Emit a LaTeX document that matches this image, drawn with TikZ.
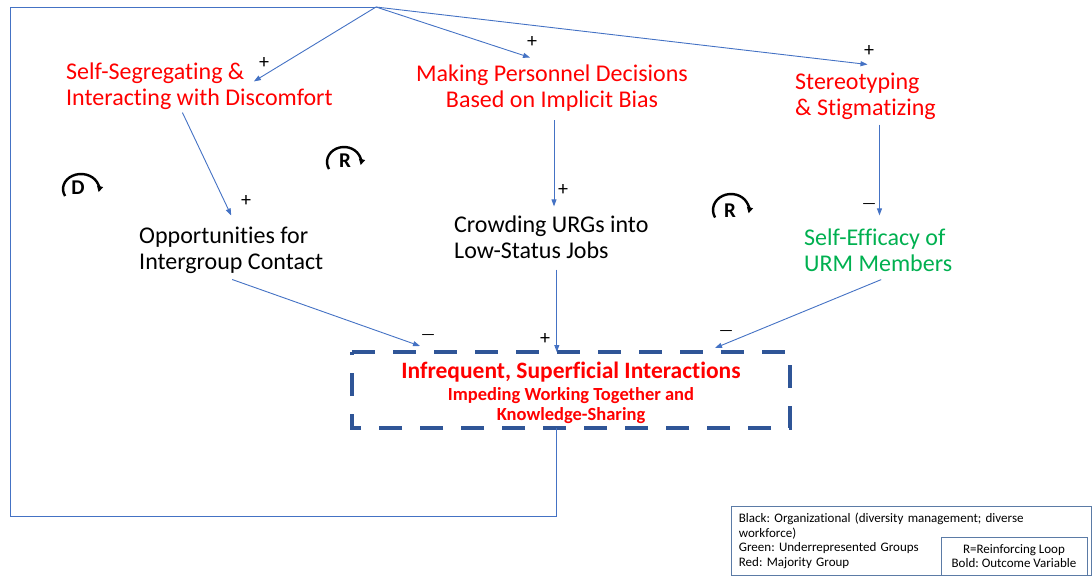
\documentclass[tikz,border=0pt]{standalone}
\usepackage{fontspec}
\setmainfont{Carlito}[Ligatures=NoCommon]
\usetikzlibrary{arrows.meta,calc}
\definecolor{link}{HTML}{4472C4}
\definecolor{frame}{HTML}{2F5597}
\definecolor{majority}{HTML}{FF0000}
\definecolor{minority}{HTML}{00B050}
\definecolor{keyline}{HTML}{5B7BA6}
\frenchspacing

\begin{document}
\begin{tikzpicture}[x=1pt,y=-1pt,
  conn/.style={draw=link, line width=0.9pt},
  arr/.style={conn, -{Triangle[length=7pt,width=5pt]}},
  var/.style={inner sep=0pt, font=\fontsize{24}{26}\selectfont},
  sign/.style={inner sep=0pt, font=\fontsize{20}{20}\selectfont},
  looparc/.style={line width=2.4pt, -{Triangle[length=6pt,width=6pt]}},
  looplabel/.style={inner sep=0pt, font=\fontsize{21}{21}\selectfont\bfseries},
  keybox/.style={draw=keyline, line width=0.8pt, fill=white, font=\fontsize{13}{14.7}\selectfont},
]
\useasboundingbox (0,0) rectangle (1092,576);

% variables
\node[var, anchor=west, align=left, text=majority] (selfseg) at (66,86)
  {Self-Segregating \&\\Interacting with Discomfort};
\node[var, align=center, text=majority] (making) at (552,88)
  {Making Personnel Decisions\\Based on Implicit Bias};
\node[var, anchor=west, align=left, text=majority] (stereo) at (795,96)
  {Stereotyping\\\& Stigmatizing};
\node[var, anchor=west, align=left] (opp) at (139,250)
  {Opportunities for\\Intergroup Contact};
\node[var, anchor=west, align=left] (crowd) at (454,237)
  {Crowding URGs into\\Low-Status Jobs};
\node[var, anchor=west, align=left, text=minority] (eff) at (804,250)
  {Self-Efficacy of\\URM Members};

% outcome variable: dashed frame and its text
\node[minimum width=438pt, minimum height=76pt, inner sep=0pt, outer sep=0pt] (box) at (571,390) {};
\draw[draw=frame, line width=4.5pt, dash pattern=on 23pt off 18pt]
  (box.north west) -- (box.north east) -- (box.south east) -- (box.south west) -- cycle;
\node[inner sep=0pt, align=center, text=majority, font=\bfseries] (outcome) at (571,392.5)
  {\fontsize{23.5}{24}\selectfont Infrequent, Superficial Interactions\\[5pt]
   \fontsize{18.5}{20}\selectfont Impeding Working Together and\\[2pt]
   \fontsize{18.5}{20}\selectfont Knowledge-Sharing};

% feedback path
\coordinate (apex) at (376,7);
\coordinate (corner) at (10,7);
\coordinate (k1) at ([xshift=5.5pt,yshift=-11pt]crowd.south);
\draw[conn] (k1 |- box.south) -- ++(0,88) -| (corner) -- (apex);

% links
\draw[arr] (apex) -- ([xshift=-79pt,yshift=-19pt]selfseg.north east);
\draw[arr] (apex) -- ([xshift=-22pt,yshift=7pt]making.north);
\draw[arr] (apex) -- ([xshift=2pt,yshift=8pt]stereo.north);

\draw[arr] ([xshift=-17pt,yshift=-3pt]selfseg.south) -- ([yshift=11pt]opp.north);

\coordinate (m1) at ([xshift=2pt,yshift=-9pt]making.south);
\coordinate (c1) at ([yshift=9pt]crowd.north);
\draw[arr] (m1) -- (m1 |- c1);

\coordinate (s1) at ([xshift=14pt,yshift=-5pt]stereo.south);
\coordinate (e1) at ([yshift=13pt]eff.north);
\draw[arr] (s1) -- (s1 |- e1);

\draw[arr] ([xshift=1pt,yshift=-6pt]opp.south) -- ([xshift=68pt,yshift=6pt]box.north west);
\draw[arr] (k1) -- (k1 |- box.north);
\draw[arr] ([xshift=3pt,yshift=-8pt]eff.south) -- ([xshift=-75pt,yshift=4pt]box.north east);

% polarities
\node[sign] (p1) at (264,63) {+};
\node[sign] (p2) at (532,42) {+};
\node[sign] (p3) at (869,51) {+};
\node[sign] (p4) at (246,201) {+};
\node[sign] (p5) at (563,190) {+};
\node[sign] (p6) at (545,339) {+};
\node[sign] (n1) at (869,206) {\fontsize{16}{16}\selectfont\textemdash};
\node[sign] (n2) at (428,337) {\fontsize{16}{16}\selectfont\textemdash};
\node[sign] (n3) at (726,333) {\fontsize{16}{16}\selectfont\textemdash};

% loop markers
\node[looplabel] (lD) at (78,188) {D};
\node[looplabel] (lR1) at (345,161) {R};
\node[looplabel] (lR2) at (730,211) {R};
\draw[looparc] ([shift={(208:18pt and 15pt)}]$(lD.center)+(3,1)$)
  arc[start angle=208, end angle=-12, x radius=18pt, y radius=15pt];
\draw[looparc] ([shift={(208:17pt and 15pt)}]$(lR1.center)+(-1,1)$)
  arc[start angle=208, end angle=-12, x radius=17pt, y radius=15pt];
\draw[looparc] ([shift={(208:18pt and 16pt)}]$(lR2.center)+(1,-1)$)
  arc[start angle=208, end angle=-12, x radius=18pt, y radius=16pt];

% legend
\node[keybox, anchor=north west, minimum width=360pt, minimum height=69pt,
      text width=344pt, inner xsep=8pt, inner ysep=0pt, align=left] (key) at (730.5,506)
  {Black: Organizational (diversity management; diverse\\workforce)\\Green: Underrepresented Groups\\Red: Majority Group};
\node[keybox, minimum width=146pt, minimum height=38pt, inner sep=0pt, align=center] (key2) at (1014,556)
  {R=Reinforcing Loop\\Bold: Outcome Variable};
\end{tikzpicture}
\end{document}
